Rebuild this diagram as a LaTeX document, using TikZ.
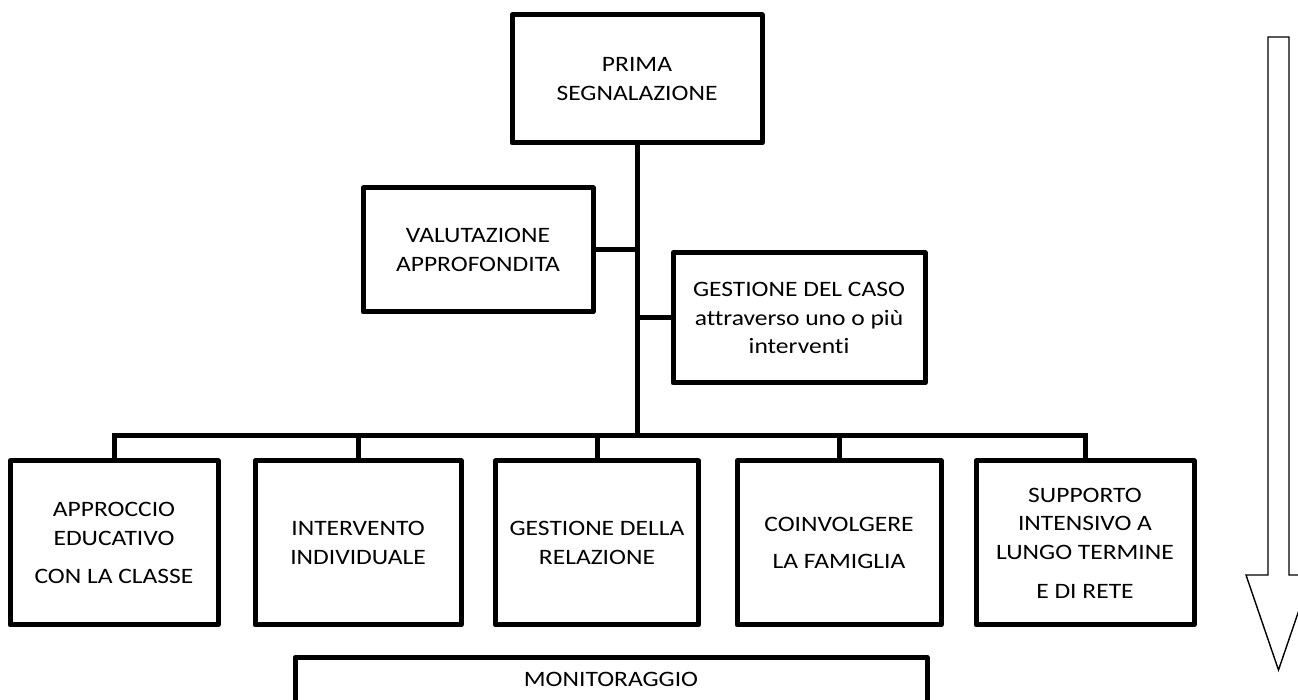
\documentclass[tikz,border=0pt]{standalone}
\usepackage{fontspec}
\setmainfont{Carlito}[FakeStretch=1.16, Ligatures=NoCommon]
\usetikzlibrary{calc}
\tikzset{
  casella/.style={draw, line width=2.5pt, line join=round, align=center, inner sep=2pt},
  ramo/.style={line width=2.5pt},
}
\begin{document}
\begin{tikzpicture}[x=0.5pt, y=-0.5pt, font=\fontsize{11pt}{14.3pt}\selectfont]
  %%%%% START %%%%%
  \useasboundingbox (0,0) rectangle (1298,700);
  \clip (0,0) rectangle (1298,700);

  \node[casella, minimum width=125pt, minimum height=64pt] (prima) at (637,79) {PRIMA\\SEGNALAZIONE};
  \node[casella, minimum width=115pt, minimum height=62pt] (valutazione) at (478,250) {VALUTAZIONE\\APPROFONDITA};
  \node[casella, minimum width=126pt, minimum height=65pt] (gestione) at (799,318) {GESTIONE DEL CASO\\attraverso uno o più\\interventi};

  \node[casella, minimum width=104pt, minimum height=82pt] (approccio) at (114,543) {APPROCCIO\\EDUCATIVO\\[4.5pt]CON LA CLASSE};
  \node[casella, minimum width=103pt, minimum height=82pt] (intervento) at (358,543) {INTERVENTO\\INDIVIDUALE};
  \node[casella, minimum width=101.5pt, minimum height=82pt] (relazione) at (597,543) {GESTIONE DELLA\\RELAZIONE};
  \node[casella, minimum width=102pt, minimum height=82pt] (famiglia) at (839,543) {COINVOLGERE\\[4pt]LA FAMIGLIA};
  \node[casella, minimum width=109pt, minimum height=82pt] (supporto) at (1085,543) {SUPPORTO\\INTENSIVO A\\LUNGO TERMINE\\[5pt]E DI RETE};

  \node[casella, anchor=north, minimum width=316pt, inner ysep=7.5pt, text depth=40pt] (monitoraggio) at (611,655) {MONITORAGGIO};

  \coordinate (snodo) at (637,436);
  \draw[ramo] (prima.south) -- (snodo);
  \draw[ramo] (valutazione.east) -- (valutazione.east -| snodo);
  \draw[ramo] (gestione.west) -- (gestione.west -| snodo);
  \draw[ramo] (approccio.north) |- (snodo) -| (supporto.north);
  \foreach \n in {intervento,relazione,famiglia}
    \draw[ramo] (\n.north) -- (\n.north |- snodo);

  \draw[line width=0.7pt] (1268,37) -- (1289,37) -- (1289,575) -- (1311,575) -- (1278.5,670) -- (1246,575) -- (1268,575) -- cycle;
  %%%%% END %%%%%
\end{tikzpicture}
\end{document}
